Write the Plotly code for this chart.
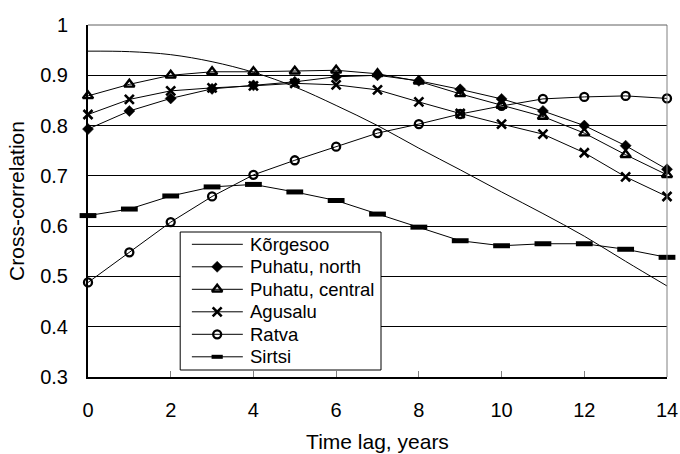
import plotly.graph_objects as go

lag = list(range(15))
korgesoo = [0.948, 0.947, 0.941, 0.927, 0.906, 0.877, 0.840, 0.800, 0.755, 0.712, 0.668, 0.625, 0.580, 0.530, 0.481]
puhatu_north = [0.793, 0.829, 0.854, 0.873, 0.880, 0.887, 0.897, 0.900, 0.889, 0.872, 0.853, 0.829, 0.800, 0.760, 0.713]
puhatu_central = [0.859, 0.882, 0.900, 0.907, 0.907, 0.908, 0.910, 0.903, 0.888, 0.863, 0.840, 0.818, 0.785, 0.742, 0.702]
agusalu = [0.822, 0.852, 0.869, 0.875, 0.879, 0.884, 0.881, 0.871, 0.847, 0.824, 0.803, 0.783, 0.746, 0.698, 0.659]
ratva = [0.488, 0.548, 0.608, 0.659, 0.702, 0.731, 0.758, 0.785, 0.803, 0.823, 0.839, 0.853, 0.857, 0.859, 0.854]
sirtsi = [0.621, 0.634, 0.660, 0.678, 0.683, 0.668, 0.651, 0.624, 0.598, 0.571, 0.561, 0.565, 0.565, 0.554, 0.538]

names = ["Kõrgesoo", "Puhatu, north", "Puhatu, central", "Agusalu", "Ratva", "Sirtsi"]
series = [korgesoo, puhatu_north, puhatu_central, agusalu, ratva, sirtsi]

FONT = "Liberation Sans, Arial, sans-serif"

# marker styles
styles = [
    None,
    dict(symbol="diamond", size=8.5, color="black", line=dict(width=0.5, color="black")),
    dict(symbol="triangle-up-open", size=9, color="black", line=dict(width=2.4, color="black")),
    dict(symbol="x-thin", size=9, color="black", line=dict(width=2.6, color="black")),
    dict(symbol="circle-open", size=8, color="black", line=dict(width=2.3, color="black")),
    dict(symbol="line-ew", size=12, color="black", line=dict(width=5, color="black")),
]

fig = go.Figure()
for name, ys, st in zip(names, series, styles):
    if st is None:
        fig.add_trace(go.Scatter(x=lag, y=ys, name=name, mode="lines",
                                 line=dict(color="black", width=1, shape="spline"),
                                 cliponaxis=False, showlegend=False))
    else:
        fig.add_trace(go.Scatter(x=lag, y=ys, name=name, mode="lines+markers",
                                 line=dict(color="black", width=1), marker=st,
                                 cliponaxis=False, showlegend=False))

# ---- custom legend drawn on an overlay axis measured in pixels ----
LX0, LX1, LY0, LY1 = 180, 381, 232, 370
fig.add_trace(go.Scatter(x=[LX0, LX1, LX1, LX0, LX0], y=[LY0, LY0, LY1, LY1, LY0],
                         xaxis="x2", yaxis="y2", mode="lines", fill="toself",
                         fillcolor="white", line=dict(color="black", width=1),
                         hoverinfo="skip", showlegend=False, cliponaxis=False))
annotations = []
for i, (name, st) in enumerate(zip(names, styles)):
    ry = 244.3 + 22.5 * i
    fig.add_trace(go.Scatter(x=[191.7, 242.7], y=[ry, ry], xaxis="x2", yaxis="y2",
                             mode="lines", line=dict(color="black", width=1),
                             hoverinfo="skip", showlegend=False, cliponaxis=False))
    if st is not None:
        lst = dict(st)
        if name == "Sirtsi":
            lst = dict(symbol="line-ew", size=8, color="black", line=dict(width=4, color="black"))
        fig.add_trace(go.Scatter(x=[217], y=[ry], xaxis="x2", yaxis="y2", mode="markers",
                                 marker=lst, hoverinfo="skip", showlegend=False, cliponaxis=False))
    annotations.append(dict(x=248, y=ry, xref="x2", yref="y2", text=name, showarrow=False,
                            xanchor="left", yanchor="middle",
                            font=dict(size=18.5, family=FONT, color="black")))

fig.update_layout(
    width=680, height=454,
    margin=dict(l=88, r=13, t=25, b=77),
    paper_bgcolor="white", plot_bgcolor="white",
    font=dict(family=FONT, color="black", size=20),
    showlegend=False,
    annotations=annotations,
    xaxis=dict(range=[0, 14], dtick=2, tick0=0, showgrid=False, zeroline=False,
               showline=True, linecolor="black", linewidth=2, automargin=False,
               ticks="inside", ticklen=6, tickcolor="#808080", tickwidth=1,
               tickfont=dict(size=20), ticklabelstandoff=14,
               title=dict(text="Time lag, years", font=dict(size=21), standoff=14)),
    yaxis=dict(range=[0.3, 1], dtick=0.1, tick0=0.3, showgrid=True, gridcolor="black", gridwidth=1,
               zeroline=False, showline=True, linecolor="black", linewidth=2, automargin=False,
               ticks="", tickfont=dict(size=20), ticklabelstandoff=14,
               title=dict(text="Cross-correlation", font=dict(size=21), standoff=10)),
    xaxis2=dict(overlaying="x", anchor="y2", range=[87.7, 667.3], visible=False, fixedrange=True),
    yaxis2=dict(overlaying="y", anchor="x2", range=[377, 25], visible=False, fixedrange=True),
    shapes=[dict(type="line", xref="paper", yref="paper", x0=1, x1=1, y0=0, y1=1,
                 line=dict(color="#808080", width=1), layer="above"),
            dict(type="line", xref="paper", yref="paper", x0=0, x1=1, y0=1, y1=1,
                 line=dict(color="#606060", width=1), layer="above")],
)

fig.write_html("out.html")
